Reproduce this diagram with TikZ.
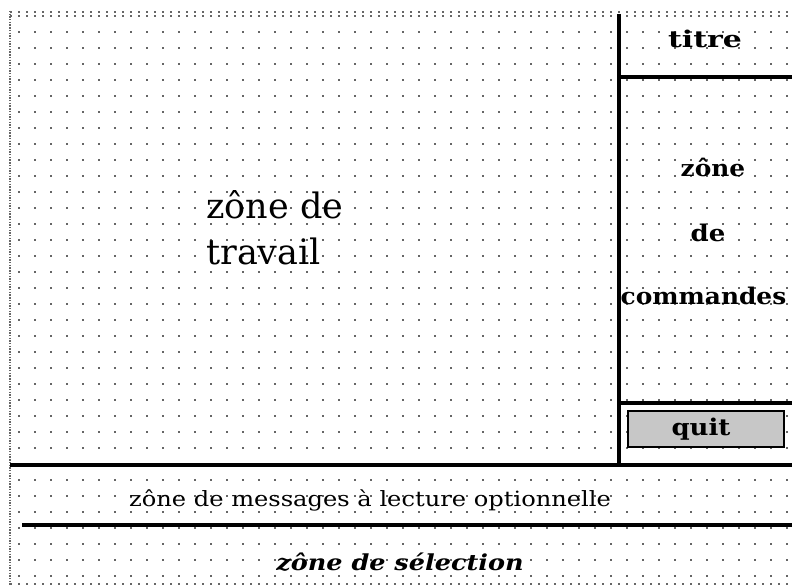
\documentclass[tikz,border=0pt]{standalone}
\usepackage{fontspec}
\setmainfont{DejaVu Serif}
\begin{document}
\begin{tikzpicture}[x=1pt,y=-1pt,
  griddot/.style={fill=black!60},
  thick line/.style={line width=3.5pt},
  mid line/.style={line width=3.2pt},
  lbl/.style={inner sep=0pt,anchor=base},
  quitbox/.style={draw=black,line width=2.2pt,fill=black!22,minimum width=156pt,minimum height=36pt,inner sep=0pt}]
\useasboundingbox (0,0) rectangle (792,585);
\fill[white] (0,0) rectangle (792,585);
% grid dots
\foreach \i in {0,...,48}{
  \foreach \j in {2,...,36}{
    \fill[griddot] ({19+16*\i-0.75},{16*\j-0.75}) rectangle ++(1.5,1.5);
  }
}
% top and bottom dotted borders
\foreach \i in {0,...,97}{
  \fill[griddot] ({11+8*\i-0.75},{12-0.75}) rectangle ++(1.5,1.5);
  \fill[griddot] ({11+8*\i-0.75},{16-0.75}) rectangle ++(1.5,1.5);
  \fill[griddot] ({11+8*\i-0.75},{584-0.75}) rectangle ++(1.5,1.5);
}
% left dotted border
\draw[black!60,line width=1.5pt,dash pattern=on 1.4pt off 1.3pt] (10,11) -- (10,585);
% structure coordinates
\coordinate (vtop) at (619,14);
\coordinate (vbot) at (619,465);
\coordinate (h1l) at (10,465);
\coordinate (h1r) at (792,465);
\coordinate (h2l) at (22,525);
\coordinate (h2r) at (792,525);
\coordinate (t1) at (619,77);
\coordinate (t2) at (792,77);
\coordinate (q1) at (619,403);
\coordinate (q2) at (792,403);
\draw[thick line] (vtop) -- (vbot);
\draw[thick line] (h1l) -- (h1r);
\draw[thick line] (h2l) -- (h2r);
\draw[mid line] (t1) -- (t2);
\draw[mid line] (q1) -- (q2);
% quit button
\node[quitbox] (quit) at (706,429) {};
\node[lbl,font=\bfseries\fontsize{23}{25}\selectfont] (quitlbl) at (701,435) {\scalebox{1.13}[1]{quit}};
% texts
\node[lbl,font=\bfseries\fontsize{23}{25}\selectfont] (titre) at (705,48) {\scalebox{1.3}[1]{titre}};
\node[lbl,font=\bfseries\fontsize{23}{25}\selectfont] (z1) at (713,176.5) {\scalebox{1.08}[1]{zône}};
\node[lbl,font=\bfseries\fontsize{23}{25}\selectfont] (z2) at (708,241.5) {\scalebox{1.13}[1]{de}};
\node[lbl,font=\bfseries\fontsize{23}{25}\selectfont] (z3) at (703.5,305) {\scalebox{1.08}[1]{commandes}};
\node[lbl,font=\fontsize{35}{46}\selectfont,align=left,anchor=west] (trav1) at (206,205) {zône de};
\node[lbl,font=\fontsize{35}{46}\selectfont,align=left,anchor=west] (trav2) at (206,251) {travail};
\node[lbl,font=\fontsize{21}{24}\selectfont] (msg) at (370,506) {\scalebox{1.15}[1]{zône de messages à lecture optionnelle}};
\node[lbl,font=\bfseries\itshape\fontsize{22}{24}\selectfont] (sel) at (400,570) {\scalebox{1.16}[1]{zône de sélection}};
\end{tikzpicture}
\end{document}
